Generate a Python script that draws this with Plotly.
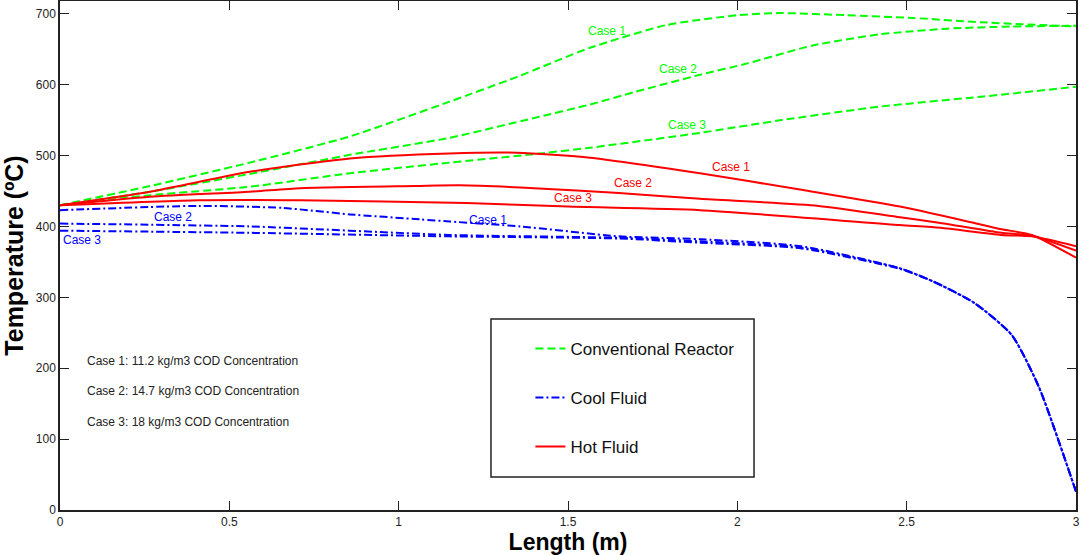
import plotly.graph_objects as go

# ---------------- data ----------------
conv1_x = [0, 0.266, 0.56, 0.856, 1.15, 1.35, 1.565, 1.79, 2.0, 2.126, 2.32, 2.52, 2.72, 3.0]
conv1_y = [430, 457, 490, 527, 576, 611, 652, 684, 698, 701, 698, 694, 688, 682]

conv2_x = [0, 0.266, 0.56, 0.856, 1.15, 1.4, 1.565, 1.7, 1.89, 2.03, 2.22, 2.42, 2.62, 2.81, 3.0]
conv2_y = [430, 449, 474, 501, 525, 553, 572, 590, 614, 630, 655, 671, 679, 682, 683]

conv3_x = [0, 0.266, 0.56, 0.856, 1.15, 1.4, 1.565, 1.89, 2.13, 2.42, 2.72, 3.0]
conv3_y = [430, 444, 456, 475, 490, 502, 511, 532, 550, 569, 583, 597]

hot1_x = [0, 0.266, 0.56, 0.856, 1.15, 1.35, 1.565, 1.89, 2.185, 2.48, 2.68, 2.78, 2.87, 3.0]
hot1_y = [430, 449, 477, 496, 503, 504, 497, 475, 452, 428, 407, 396, 388, 356]

hot2_x = [0, 0.266, 0.56, 0.709, 1.05, 1.18, 1.40, 1.65, 1.89, 2.24, 2.48, 2.6, 2.78, 2.87, 3.0]
hot2_y = [430, 442, 449, 454, 457, 458, 454, 447, 439, 429, 413, 405, 391, 387, 366]

hot3_x = [0, 0.41, 0.709, 1.2, 1.5, 1.89, 2.48, 2.6, 2.78, 2.87, 3.0]
hot3_y = [430, 437, 437, 433, 428, 423, 402, 398, 388, 386, 372]

cool1_x = [0, 0.41, 0.66, 0.856, 1.063, 1.15, 1.36, 1.65, 1.89, 2.19, 2.48, 2.58, 2.70, 2.81, 2.89, 3.0]
cool1_y = [423, 429, 426, 417, 410, 407, 400, 386, 382, 372, 341, 322, 292, 247, 174, 26]

cool2_x = [0, 0.56, 1.15, 1.65, 1.89, 2.19, 2.48, 2.58, 2.70, 2.81, 2.89, 3.0]
cool2_y = [404, 400, 388, 384, 379, 370, 341, 322, 292, 247, 174, 26]

cool3_x = [0, 0.56, 1.15, 1.65, 1.89, 2.19, 2.48, 2.58, 2.70, 2.81, 2.89, 3.0]
cool3_y = [394, 391, 386, 383, 377, 369, 340, 322, 292, 247, 174, 26]

series_names = ["Conventional Reactor", "Cool Fluid", "Hot Fluid"]

x_ticks = [0, 0.5, 1, 1.5, 2, 2.5, 3]
x_tick_labels = ["0", "0.5", "1", "1.5", "2", "2.5", "3"]
y_ticks = [0, 100, 200, 300, 400, 500, 600, 700]

# curve labels: (text, x, y, color)
curve_labels = [
    ("Case 1", 1.615, 676, "#00ff00"),
    ("Case 2", 1.825, 622, "#00ff00"),
    ("Case 3", 1.851, 543, "#00ff00"),
    ("Case 1", 1.981, 484, "#ff0000"),
    ("Case 2", 1.692, 461, "#ff0000"),
    ("Case 3", 1.514, 440, "#ff0000"),
    ("Case 1", 1.263, 409, "#0000ff"),
    ("Case 2", 0.335, 413, "#0000ff"),
    ("Case 3", 0.065, 381, "#0000ff"),
]

case_notes = [
    ("Case 1: 11.2 kg/m3 COD Concentration", 210),
    ("Case 2: 14.7 kg/m3 COD Concentration", 168),
    ("Case 3: 18 kg/m3 COD Concentration", 124),
]

# ---------------- figure ----------------
GREEN, BLUE, RED = "#00ff00", "#0000ff", "#ff0000"
DASH = "8px,4px"
DASHDOT = "8px,3px,2px,3px"
FONT = "Liberation Sans, Arial, sans-serif"

fig = go.Figure()

def add(x, y, color, dash, name, group, show):
    fig.add_trace(go.Scatter(
        x=x, y=y, mode="lines", name=name, legendgroup=group, showlegend=show,
        line=dict(color=color, width=2, dash=dash, shape="spline", smoothing=0.6),
        hoverinfo="skip",
    ))

add(conv1_x, conv1_y, GREEN, DASH, series_names[0], "g1", True)
add(conv2_x, conv2_y, GREEN, DASH, series_names[0], "g1", False)
add(conv3_x, conv3_y, GREEN, DASH, series_names[0], "g1", False)
add(cool1_x, cool1_y, BLUE, DASHDOT, series_names[1], "g2", True)
add(cool2_x, cool2_y, BLUE, DASHDOT, series_names[1], "g2", False)
add(cool3_x, cool3_y, BLUE, DASHDOT, series_names[1], "g2", False)
add(hot1_x, hot1_y, RED, "solid", series_names[2], "g3", True)
add(hot2_x, hot2_y, RED, "solid", series_names[2], "g3", False)
add(hot3_x, hot3_y, RED, "solid", series_names[2], "g3", False)

annotations = []
for text, x, y, c in curve_labels:
    annotations.append(dict(x=x, y=y, text=text, showarrow=False, xref="x", yref="y",
                            font=dict(family=FONT, size=12, color=c)))
for text, y in case_notes:
    annotations.append(dict(x=0.075, y=y, text=text, showarrow=False, xref="x", yref="y",
                            xanchor="left", font=dict(family=FONT, size=12, color="#222222")))

fig.update_layout(
    width=1080, height=555,
    margin=dict(l=60, r=4, t=1, b=45, autoexpand=False),
    paper_bgcolor="white", plot_bgcolor="white",
    font=dict(family=FONT, size=12, color="#222222"),
    annotations=annotations,
    showlegend=True,
    legend=dict(
        x=0.463, y=0.352, xanchor="left", yanchor="top",
        bgcolor="rgba(255,255,255,0)", borderwidth=0,
        font=dict(family=FONT, size=17, color="#111111"),
        traceorder="grouped", tracegroupgap=24,
    ),
    shapes=[dict(type="rect", xref="paper", yref="paper",
                 x0=0.4242, x1=0.6831, y0=0.0648, y1=0.3752,
                 line=dict(color="#222222", width=1.5), fillcolor="rgba(0,0,0,0)")],
    xaxis=dict(
        range=[0, 3], tickmode="array", tickvals=x_ticks, ticktext=x_tick_labels,
        ticks="inside", ticklen=9, tickwidth=1, tickcolor="#222222",
        showline=True, linecolor="#222222", linewidth=1.5, mirror="ticks",
        showgrid=False, zeroline=False, automargin=False,
        tickfont=dict(family=FONT, size=12, color="#222222"),
        title=dict(text="<b>Length (m)</b>", font=dict(family=FONT, size=23, color="black"), standoff=4),
    ),
    yaxis=dict(
        range=[0, 718], tickmode="array", tickvals=y_ticks,
        ticks="inside", ticklen=9, tickwidth=1, tickcolor="#222222",
        showline=True, linecolor="#222222", linewidth=1.5, mirror="ticks",
        showgrid=False, zeroline=False, automargin=False,
        tickfont=dict(family=FONT, size=12, color="#222222"),
        title=dict(text="<b>Temperature (ºC)</b>", font=dict(family=FONT, size=25, color="black"), standoff=6),
    ),
)

fig.write_html("out.html", config={"displayModeBar": False},
               post_script="document.body.style.margin='0';document.body.style.overflow='hidden';")
